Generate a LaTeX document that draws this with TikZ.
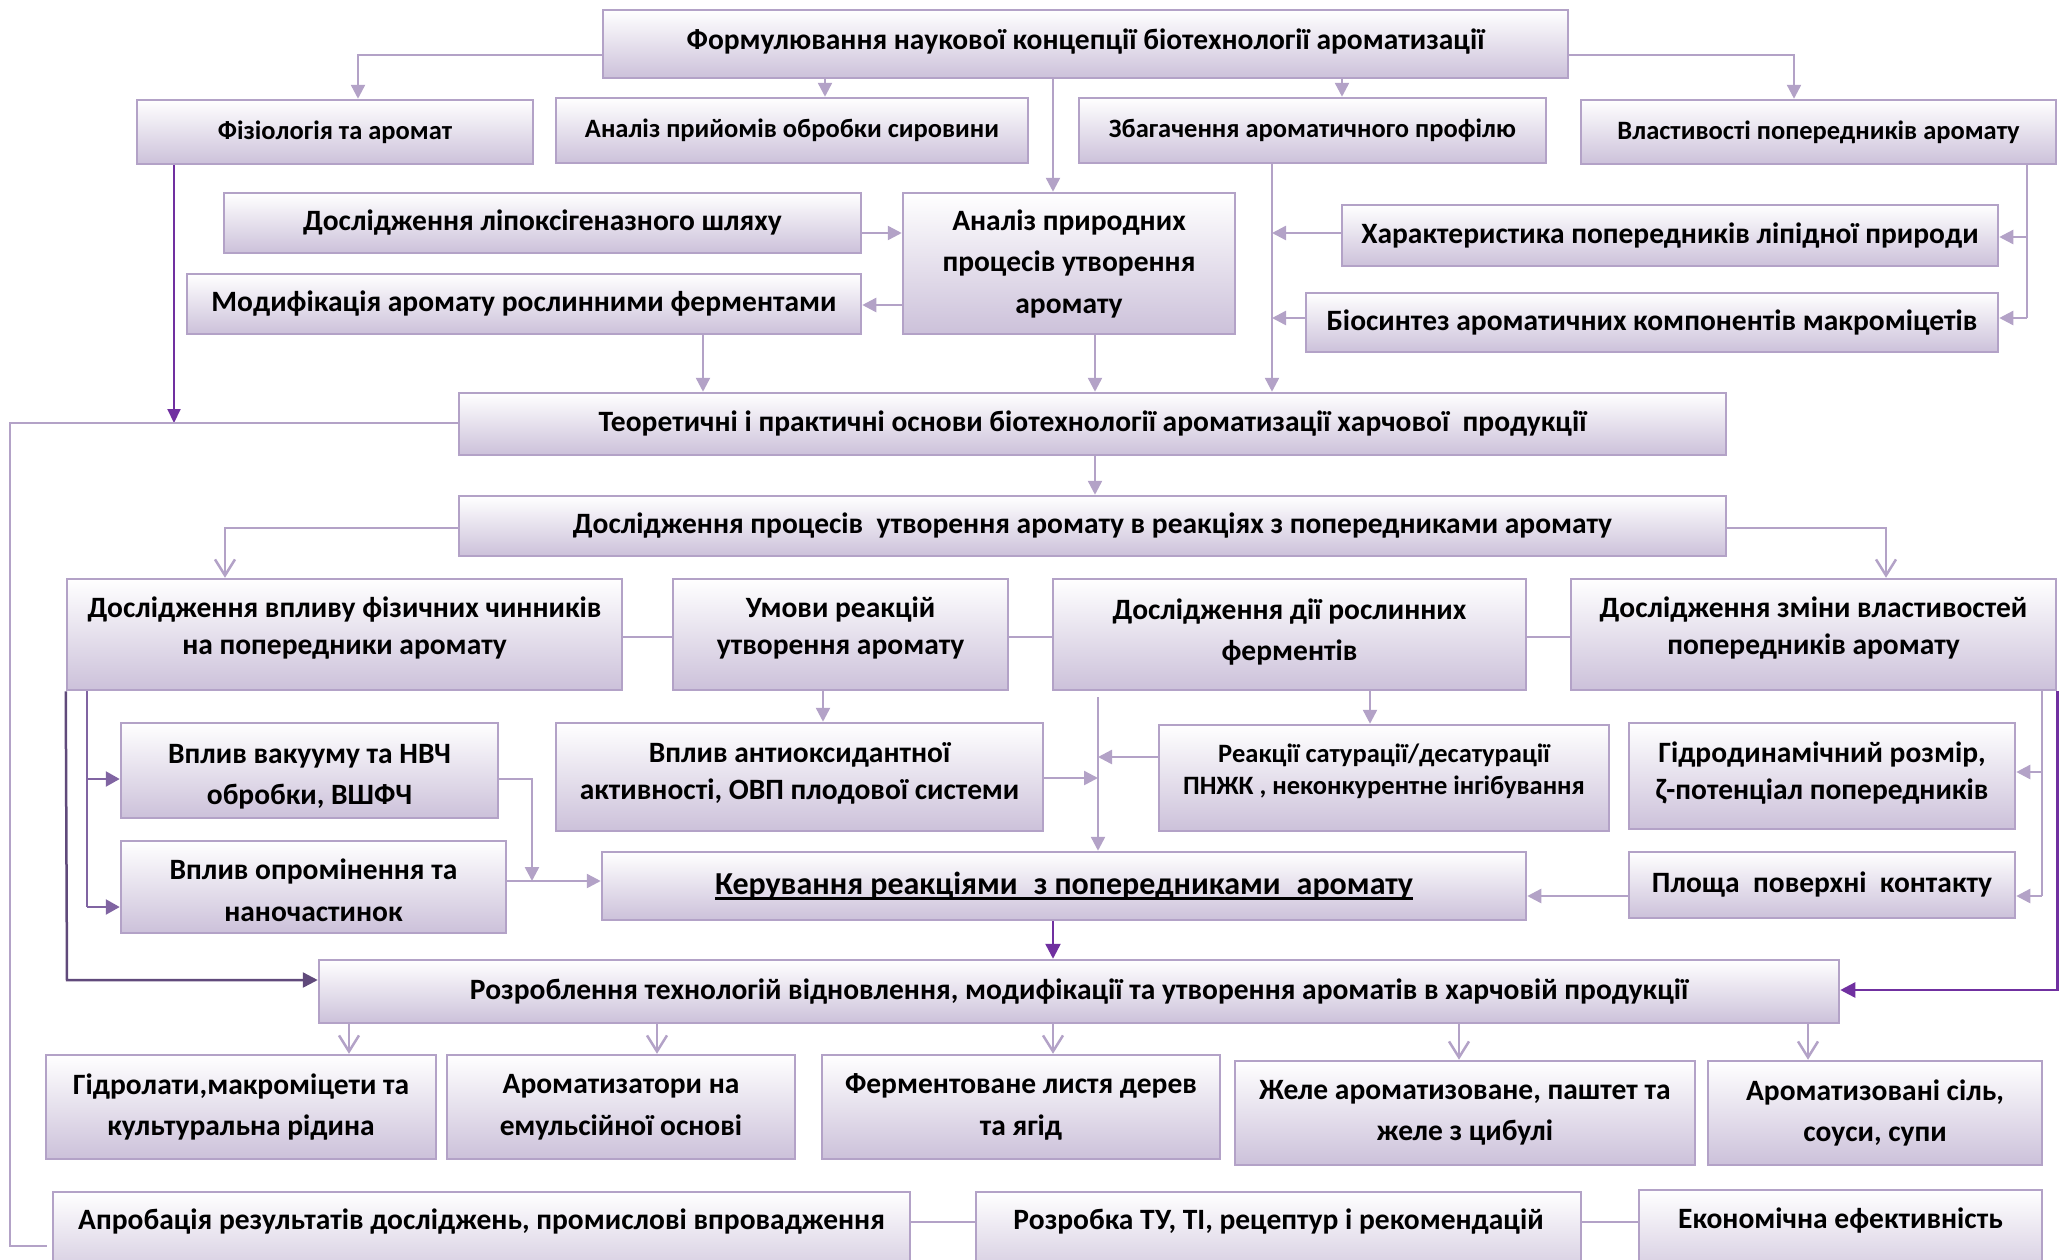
\documentclass[tikz,border=0pt]{standalone}
\usepackage{fontspec}
\setmainfont{Carlito}
\usetikzlibrary{arrows.meta}
\definecolor{boxline}{RGB}{179,162,199}
\definecolor{boxfill}{RGB}{204,193,218}
\definecolor{lav}{RGB}{179,162,199}
\definecolor{midp}{RGB}{128,100,162}
\definecolor{darkp}{RGB}{96,74,123}
\definecolor{vivp}{RGB}{112,48,160}
\newcommand\myul[1]{\setbox0\hbox{#1}\rlap{\rule[-5pt]{\wd0}{2.5pt}}\box0}
% text block moved up by #1 inside its box (box itself stays)
\newcommand\sh[2]{\raisebox{0pt}[\dimexpr\height-#1\relax][\dimexpr\depth+#1\relax]{\begin{tabular}{@{}c@{}}#2\end{tabular}}}
\newcommand\mkbox[7][]{\node[box,#1,minimum width={#5-#3},minimum height={#6-#4}] (#2) at ({(#3+#5)/2},{(#4+#6)/2}) {#7};}
\tikzset{
  box/.style={draw=boxline, line width=2.5pt, top color=white, bottom color=boxfill,
    align=center, inner sep=2pt, text=black,
    font=\bfseries\fontsize{29.5}{37}\selectfont},
  wide/.style={font=\bfseries\fontsize{29.5}{41.5}\selectfont},
  smallrow/.style={font=\bfseries\fontsize{26.5}{34}\selectfont},
  small/.style={font=\bfseries\fontsize{26.5}{32}\selectfont},
  big/.style={font=\bfseries\fontsize{32}{38}\selectfont},
  lowtext/.style={text height=20pt, text depth=44pt},
  ln/.style={draw=lav, line width=2.5pt},
  arr/.style={ln, -{Triangle[width=14pt,length=14pt]}},
  varr/.style={ln, -{Straight Barb[width=20pt,length=16pt]}},
  mln/.style={draw=midp, line width=2.5pt},
  marr/.style={mln, -{Triangle[width=15pt,length=14pt]}},
  darr/.style={draw=darkp, line width=2.5pt, -{Triangle[width=15pt,length=15pt]}},
  parr/.style={draw=vivp, line width=2.5pt, -{Triangle[width=15pt,length=15pt]}},
  tparr/.style={draw=vivp, line width=2pt, -{Triangle[width=13pt,length=14pt]}},
}
\begin{document}
\begin{tikzpicture}[x=1pt,y=-1pt]
\useasboundingbox (0,0) rectangle (2067,1259);
% boxes
\mkbox{top}{603}{10}{1568}{78}{\sh{2pt}{Формулювання наукової концепції біотехнології ароматизації}}
\mkbox[smallrow]{fiz}{137}{100}{533}{164}{Фізіологія та аромат}
\mkbox[smallrow]{analizpr}{556}{98}{1028}{163}{Аналіз прийомів обробки сировини}
\mkbox[smallrow]{zbag}{1079}{98}{1546}{163}{Збагачення ароматичного профілю}
\mkbox[smallrow]{vlast}{1581}{100}{2056}{164}{Властивості попередників аромату}
\mkbox{lipox}{224}{193}{861}{253}{Дослідження ліпоксігеназного шляху}
\mkbox{modif}{187}{274}{861}{334}{Модифікація аромату рослинними ферментами}
\mkbox[wide]{analiznat}{903}{193}{1235}{334}{Аналіз природних\\процесів утворення\\аромату}
\mkbox{harakt}{1342}{205}{1998}{266}{Характеристика попередників ліпідної природи}
\mkbox{biosyn}{1306}{293}{1998}{352}{Біосинтез ароматичних компонентів макроміцетів}
\mkbox{teor}{459}{393}{1726}{455}{Теоретичні і практичні основи біотехнології ароматизації харчової~ продукції}
\mkbox{proc}{459}{496}{1726}{556}{Дослідження процесів~ утворення аромату в реакціях з попередниками аромату}
\mkbox{fizfact}{67}{579}{622}{690}{\sh{6pt}{Дослідження впливу фізичних чинників\\на попередники аромату}}
\mkbox{umovy}{673}{579}{1008}{690}{\sh{6pt}{Умови реакцій\\утворення аромату}}
\mkbox[wide]{ferm}{1053}{579}{1526}{690}{\sh{3pt}{Дослідження дії рослинних\\ферментів}}
\mkbox{zmina}{1571}{579}{2056}{690}{\sh{6pt}{Дослідження зміни властивостей\\попередників аромату}}
\mkbox[wide]{vakuum}{121}{723}{498}{818}{\sh{-5pt}{Вплив вакууму та НВЧ\\обробки, ВШФЧ}}
\mkbox{antiox}{556}{723}{1043}{831}{\sh{3pt}{Вплив антиоксидантної\\активності, ОВП плодової системи}}
\mkbox[small]{reak}{1159}{725}{1609}{831}{\sh{6pt}{Реакції сатурації/десатурації\\ПНЖК , неконкурентне інгібування}}
\mkbox{gidro}{1629}{723}{2015}{829}{\sh{2pt}{Гідродинамічний розмір,\\ζ-потенціал попередників}}
\mkbox[wide]{oprom}{121}{841}{506}{933}{\sh{-5pt}{Вплив опромінення та\\наночастинок}}
\mkbox[big]{keruv}{602}{852}{1526}{920}{\myul{Керування реакціями\hspace{0.5em}з попередниками\hspace{0.5em}аромату}}
\mkbox{plosh}{1629}{852}{2015}{918}{Площа~ поверхні~ контакту}
\mkbox{rozrob}{319}{960}{1839}{1023}{Розроблення технологій відновлення, модифікації та утворення ароматів в харчовій продукції}
\mkbox[wide]{gidrol}{46}{1055}{436}{1159}{Гідролати,макроміцети та\\культуральна рідина}
\mkbox[wide]{aromemul}{447}{1055}{795}{1159}{Ароматизатори на\\емульсійної основі}
\mkbox[wide]{fermlist}{822}{1055}{1220}{1159}{Ферментоване листя дерев\\та ягід}
\mkbox[wide]{zhele}{1235}{1061}{1695}{1165}{Желе ароматизоване, паштет та\\желе з цибулі}
\mkbox[wide]{aromsil}{1708}{1061}{2042}{1165}{Ароматизовані сіль,\\соуси, супи}
\mkbox[lowtext]{aprob}{53}{1192}{910}{1290}{Апробація результатів досліджень, промислові впровадження}
\mkbox[lowtext]{rozrobka}{976}{1192}{1581}{1290}{Розробка ТУ, ТІ, рецептур і рекомендацій}
\mkbox[lowtext]{econ}{1639}{1190}{2042}{1290}{Економічна ефективність}
% helper coordinates
\coordinate (xa) at (358,55);
\coordinate (xb) at (825,0);
\coordinate (xc) at (1053,0);
\coordinate (xd) at (1342,0);
\coordinate (xe) at (1794,55);
\coordinate (xf) at (174,423);
\coordinate (yg) at (0,233);
\coordinate (yh) at (0,305);
\coordinate (xi) at (703,0);
\coordinate (xj) at (1095,0);
\coordinate (xk) at (1272,0);
\coordinate (ym) at (0,318);
\coordinate (xn) at (2027,0);
\coordinate (yn) at (0,237);
\coordinate (xo) at (10,1246);
\coordinate (xo2) at (47,1246);
\coordinate (xq) at (225,528);
\coordinate (xr) at (1886,528);
\coordinate (ys) at (0,637);
\coordinate (xt) at (823,0);
\coordinate (xu) at (1370,0);
\coordinate (xv) at (1098,697);
\coordinate (yw) at (0,757);
\coordinate (yx) at (0,778);
\coordinate (xy) at (67,980);
\coordinate (xz) at (87,0);
\coordinate (y1) at (0,779);
\coordinate (y2) at (0,907);
\coordinate (xaa) at (532,881);
\coordinate (ycc) at (0,896);
\coordinate (xdd) at (2042,0);
\coordinate (y3) at (0,772);
\coordinate (yee) at (0,990);
\coordinate (ybt) at (0,1222);
% top level connectors
\draw[arr] (top.west |- xa) -| (fiz.north -| xa);
\draw[arr] (top.south -| xb) -- (analizpr.north -| xb);
\draw[arr] (top.south -| xc) -- (analiznat.north -| xc);
\draw[arr] (top.south -| xd) -- (zbag.north -| xd);
\draw[arr] (top.east |- xe) -| (vlast.north -| xe);
\draw[tparr] (fiz.south -| xf) -- (xf);
\draw[arr] (lipox.east |- yg) -- (analiznat.west |- yg);
\draw[arr] (analiznat.west |- yh) -- (modif.east |- yh);
\draw[arr] (modif.south -| xi) -- (teor.north -| xi);
\draw[arr] (analiznat.south -| xj) -- (teor.north -| xj);
\draw[arr] (zbag.south -| xk) -- (teor.north -| xk);
\draw[arr] (harakt.west |- yg) -- (xk |- yg);
\draw[arr] (biosyn.west |- ym) -- (xk |- ym);
\draw[ln] (vlast.south -| xn) -- (xn |- ym);
\draw[arr] (xn |- yn) -- (harakt.east |- yn);
\draw[arr] (xn |- ym) -- (biosyn.east |- ym);
\draw[ln] (teor.west |- xf) -| (xo) -- (xo2);
% middle
\draw[arr] (teor.south -| xj) -- (proc.north -| xj);
\draw[varr] (proc.west |- xq) -| (fizfact.north -| xq);
\draw[varr] (proc.east |- xr) -| (zmina.north -| xr);
\draw[ln] (fizfact.east |- ys) -- (umovy.west |- ys);
\draw[ln] (umovy.east |- ys) -- (ferm.west |- ys);
\draw[ln] (ferm.east |- ys) -- (zmina.west |- ys);
\draw[arr] (umovy.south -| xt) -- (antiox.north -| xt);
\draw[arr] (ferm.south -| xu) -- (reak.north -| xu);
\draw[arr] (xv) -- (keruv.north -| xv);
\draw[arr] (reak.west |- yw) -- (xv |- yw);
\draw[arr] (antiox.east |- yx) -- (xv |- yx);
% left side
\draw[darr] (fizfact.south west) -- (xy) -- (rozrob.west |- xy);
\draw[mln] (fizfact.south -| xz) -- (xz |- y2);
\draw[marr] (xz |- y1) -- (vakuum.west |- y1);
\draw[marr] (xz |- y2) -- (oprom.west |- y2);
\draw[arr] (vakuum.east |- y1) -| (xaa);
\draw[arr] (oprom.east |- xaa) -- (keruv.west |- xaa);
% right side
\draw[arr] (plosh.west |- ycc) -- (keruv.east |- ycc);
\draw[ln] (zmina.south -| xdd) -- (xdd |- ycc);
\draw[arr] (xdd |- y3) -- (gidro.east |- y3);
\draw[arr] (xdd |- ycc) -- (plosh.east |- ycc);
\draw[parr] (zmina.south east) |- (rozrob.east |- yee);
\draw[parr] (keruv.south -| xc) -- (rozrob.north -| xc);
% products
\foreach \n/\x in {gidrol/349, aromemul/657, fermlist/1053, zhele/1459, aromsil/1808}{
  \coordinate (p\n) at (\x,0);
  \draw[varr] (rozrob.south -| p\n) -- (\n.north -| p\n);
}
% bottom row
\draw[ln] (aprob.east |- ybt) -- (rozrobka.west |- ybt);
\draw[ln] (rozrobka.east |- ybt) -- (econ.west |- ybt);
\end{tikzpicture}
\end{document}
